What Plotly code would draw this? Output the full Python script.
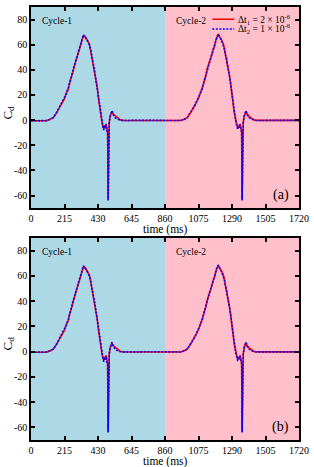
import plotly.graph_objects as go

t_cycle = [0, 50, 100, 120, 143, 160, 175, 185, 195, 205, 215, 225, 232, 238, 245, 255, 262, 270,
           280, 290, 300, 310, 318, 326, 332, 337, 342, 347, 352, 358, 364, 370, 376, 382, 388,
           394, 400, 407, 414, 420, 426, 432, 438, 444, 450, 456, 462, 467, 472, 477, 482, 487,
           492, 495, 498, 502, 508, 514, 520, 526, 532, 540, 550, 560, 570, 580, 600, 700, 800, 860]

red_c1 = [-0.5, -0.5, -0.4, 0.5, 2, 5, 8, 10.5, 12, 15, 17, 21, 23, 24, 28, 32, 35, 40,
          44, 48, 52, 56, 59, 63, 66, 67.5, 66, 67, 65, 64.5, 63, 62, 60, 56, 52,
          49, 45, 40, 35, 30, 25, 18, 12, 6, 2, -2, -5, -7, -4, -6, -3, -8,
          -10, -63, -10, -2, 3, 5, 7, 5, 4.5, 3.5, 2.5, 1.5, 0.5, 0, -0.2, -0.2, -0.1, -0.1]
blue_c1 = [-0.5, -0.5, -0.4, 0.4, 2, 5, 8.5, 10, 12.5, 15, 17.5, 20.5, 23.5, 24, 28.5, 32, 35.5, 40,
           44.5, 48, 52.5, 56, 59.5, 63, 66.5, 68, 66.5, 66.5, 65.5, 64, 63.5, 61.5, 59.5, 56.5, 51.5,
           49, 44.5, 40.5, 34.5, 30, 24.5, 18.5, 11.5, 6.5, 1.5, -2.5, -5.5, -8, -4.5, -6.5, -3.5, -8.5,
           -10, -64, -10, -2, 3, 5, 7.5, 4.5, 3, 2, 1, 0.3, 0, -0.2, -0.3, -0.2, -0.1, -0.1]
red_c2 = [-0.1, -0.2, -0.3, 0.5, 2, 5, 8, 10.5, 12.5, 15, 17.5, 20.5, 23, 24.5, 28, 32.5, 35, 40.5,
          44, 48.5, 52, 56.5, 59, 63.5, 66, 67, 68, 66.5, 66, 64.5, 63.5, 62, 60, 56, 52.5,
          49, 45, 40, 35.5, 30, 25, 18, 12.5, 6, 2, -2, -4.5, -6.5, -4, -5.5, -3, -7.5,
          -10, -63, -10, -2, 3, 5, 7, 5, 4, 3, 2, 1, 0.3, 0, -0.2, -0.2, -0.2, -0.2]
blue_c2 = [-0.1, -0.2, -0.3, 0.4, 2, 5.5, 8, 10, 12.5, 15.5, 17.5, 21, 23.5, 24.5, 28.5, 32.5, 35.5, 40,
           44.5, 48.5, 52.5, 56, 59.5, 63, 66.5, 67, 68.5, 66.5, 66, 65, 63, 62, 59.5, 56.5, 52,
           49.5, 44.5, 40, 35, 30.5, 24.5, 18.5, 12, 6.5, 1.5, -2.5, -5, -7.5, -4.5, -6, -3.5, -8,
           -10, -64, -10, -2.5, 3, 5, 7.5, 4.5, 3, 2, 1, 0.3, 0, -0.2, -0.3, -0.2, -0.2, -0.2]

cycle_len = 860
x_ticks = [0, 215, 430, 645, 860, 1075, 1290, 1505, 1720]
y_ticks = [-60, -40, -20, 0, 20, 40, 60, 80]
y_ticktext = ["-60", "-40", "-20", "0", "20", "40", "60", "80"]
cycle_labels = ["Cycle-1", "Cycle-2"]
panel_labels = ["(a)", "(b)"]
legend_names = ["Δt<sub>1</sub> = 2 × 10<sup>-6</sup>", "Δt<sub>2</sub> = 1 × 10<sup>-6</sup>"]

time_full = t_cycle + [cycle_len + t for t in t_cycle]
red_full = red_c1 + red_c2
blue_full = blue_c1 + blue_c2

FONT = "Liberation Serif"
W, H = 314, 467
ML, MR, MT, MB = 31, 14, 5, 27
plot_w = W - ML - MR
plot_h = H - MT - MB

def px_x(px):
    return (px - ML) / plot_w

def px_y(py):
    return (H - MB - py) / plot_h

def dom(top_px, bot_px):
    return [px_y(bot_px), px_y(top_px)]

RED = "#ff0000"
BLUE = "#0000ff"
BLUE_DASH = "2px,1.5px"

fig = go.Figure()
axes = [("x", "y"), ("x2", "y2")]
for i, (xa, ya) in enumerate(axes):
    fig.add_trace(go.Scatter(x=time_full, y=red_full, mode="lines", xaxis=xa, yaxis=ya,
                             line=dict(color=RED, width=1.6),
                             name=legend_names[0], showlegend=False))
    fig.add_trace(go.Scatter(x=time_full, y=blue_full, mode="lines", xaxis=xa, yaxis=ya,
                             line=dict(color=BLUE, width=1.6, dash=BLUE_DASH),
                             name=legend_names[1], showlegend=False))

axis_common = dict(showline=True, linecolor="black", linewidth=1.5, mirror="ticks",
                   ticks="inside", ticklen=4, tickwidth=1.5, tickcolor="black",
                   showgrid=False, zeroline=False,
                   tickfont=dict(family=FONT, size=10, color="black"))

top_dom = dom(5, 207)
bot_dom = dom(237, 440)
fig.update_layout(
    width=W, height=H, margin=dict(l=ML, r=MR, t=MT, b=MB),
    plot_bgcolor="white", paper_bgcolor="white", showlegend=False,
    xaxis=dict(domain=[0, 1], anchor="y", range=[0, 1720], tickvals=x_ticks, **axis_common),
    yaxis=dict(domain=top_dom, anchor="x", range=[-70, 90], tickvals=y_ticks, ticktext=y_ticktext, **axis_common),
    xaxis2=dict(domain=[0, 1], anchor="y2", range=[0, 1720], tickvals=x_ticks, **axis_common),
    yaxis2=dict(domain=bot_dom, anchor="x2", range=[-70, 90], tickvals=y_ticks, ticktext=y_ticktext, **axis_common),
    font=dict(family=FONT, color="black"),
)

colors = ["#add8e6", "#ffc0cb"]
shapes = []
for xa, ya in axes:
    for k in range(2):
        shapes.append(dict(type="rect", xref=xa, yref=ya + " domain", x0=k * cycle_len,
                           x1=(k + 1) * cycle_len, y0=0, y1=1, fillcolor=colors[k],
                           line=dict(width=0), layer="below"))

ann = []
# custom legend (top panel)
leg_rows = [17.3, 27.0]
leg_styles = [dict(color=RED, width=1.5), dict(color=BLUE, width=1.5, dash=BLUE_DASH)]
for r in range(2):
    shapes.append(dict(type="line", xref="paper", yref="paper",
                       x0=px_x(213), x1=px_x(235), y0=px_y(leg_rows[r]), y1=px_y(leg_rows[r]),
                       line=leg_styles[r], layer="above"))
    ann.append(dict(text=legend_names[r], xref="paper", yref="paper",
                    x=px_x(237), y=px_y(leg_rows[r]), xanchor="left", yanchor="middle",
                    showarrow=False, font=dict(family=FONT, size=9.5, color="black")))
fig.update_layout(shapes=shapes)

panels = [("x", "y", 5, 207), ("x2", "y2", 237, 440)]
for i, (xa, ya, top_px, bot_px) in enumerate(panels):
    for k in range(2):
        ann.append(dict(text=cycle_labels[k], xref="paper", yref="paper",
                        x=px_x(40 + k * 134.5), y=px_y(top_px + 14), xanchor="left", yanchor="middle",
                        showarrow=False, font=dict(family=FONT, size=9.5, color="black")))
    ann.append(dict(text=panel_labels[i], xref="paper", yref="paper",
                    x=px_x(292), y=px_y(bot_px - 13), xanchor="right", yanchor="middle", showarrow=False,
                    font=dict(family=FONT, size=14, color="black")))
    ann.append(dict(text="C<sub>d</sub>", xref="paper", yref="paper",
                    x=px_x(8), y=px_y(top_px + 106), xanchor="center", yanchor="middle", textangle=-90,
                    showarrow=False, font=dict(family=FONT, size=13, color="black")))
    ann.append(dict(text="time (ms)", xref="paper", yref="paper",
                    x=0.5, y=px_y(bot_px + 21.5), xanchor="center", yanchor="middle",
                    showarrow=False, font=dict(family=FONT, size=11.5, color="black")))
fig.update_layout(annotations=ann)

fig.write_html("out.html", config={"displayModeBar": False},
               post_script="document.body.style.margin='0';document.body.style.overflow='hidden';")
